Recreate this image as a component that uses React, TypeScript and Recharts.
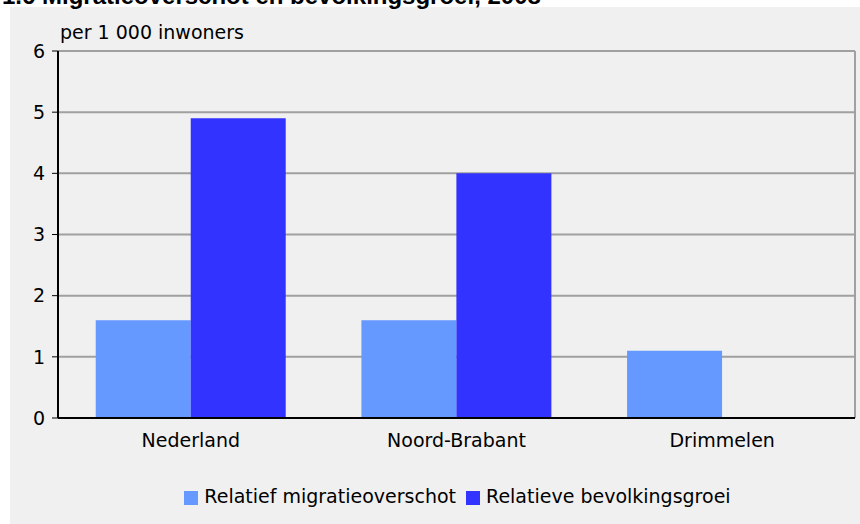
import { Bar, BarChart, CartesianGrid, Legend, XAxis, YAxis } from "recharts";

const regions = ["Nederland", "Noord-Brabant", "Drimmelen"];
const migratieoverschot = [1.6, 1.6, 1.1];
const bevolkingsgroei = [4.9, 4.0, 0];
const yTicks = [0, 1, 2, 3, 4, 5, 6];

const data = regions.map((region, i) => ({
  region,
  migratie: migratieoverschot[i],
  groei: bevolkingsgroei[i]
}));

const FONT = "'DejaVu Sans', sans-serif";

export default function App() {
  return (
    <div
      style={{
        position: "absolute",
        left: 0,
        top: 0,
        width: 860,
        height: 524,
        overflow: "hidden",
        background: "#fff",
        fontFamily: FONT
      }}
    >
      <div style={{ position: "absolute", left: 10, top: 7, width: 850, height: 517, background: "#f0f0f0" }}>
        <BarChart
          width={850}
          height={517}
          data={data}
          margin={{ top: 44, right: 5, left: 0, bottom: 17 }}
          barCategoryGap="14.2%"
          barGap={0}
        >
          <CartesianGrid
            stroke="#a0a0a0"
            strokeWidth={2}
            vertical
            fill="none"
            verticalCoordinatesGenerator={({ offset }) => [offset.left + offset.width]}
          />
          <XAxis
            dataKey="region"
            height={67}
            tickLine={false}
            axisLine={{ stroke: "#000", strokeWidth: 2 }}
            tickMargin={10}
            tick={{ fill: "#000", fontSize: 19, fontFamily: FONT }}
          />
          <YAxis
            width={48}
            domain={[0, 6]}
            ticks={yTicks}
            interval={0}
            tickSize={6}
            tickMargin={7}
            axisLine={{ stroke: "#000", strokeWidth: 2 }}
            tickLine={{ stroke: "#000" }}
            tick={{ fill: "#000", fontSize: 19, fontFamily: FONT }}
            label={{
              content: ({ viewBox }) => {
                const vb = viewBox as { x: number; y: number; width: number };
                return (
                  <text x={vb.x + vb.width + 2} y={vb.y - 12} fill="#000" fontSize={19} fontFamily={FONT}>
                    per 1 000 inwoners
                  </text>
                );
              }
            }}
          />
          <Legend
            verticalAlign="bottom"
            align="center"
            iconType="square"
            iconSize={14}
            wrapperStyle={{ fontSize: 19, fontFamily: FONT, color: "#000", paddingLeft: 30 }}
            formatter={(value) => <span style={{ color: "#000", marginLeft: 2 }}>{value}</span>}
          />
          <Bar
            dataKey="migratie"
            name="Relatief migratieoverschot"
            fill="#6699ff"
            isAnimationActive={false}
          />
          <Bar
            dataKey="groei"
            name="Relatieve bevolkingsgroei"
            fill="#3333ff"
            isAnimationActive={false}
          />
        </BarChart>
      </div>
      <div
        style={{
          position: "absolute",
          top: -16,
          left: 2,
          lineHeight: "24px",
          fontFamily: "'Liberation Sans', Arial, sans-serif",
          fontWeight: "bold",
          fontSize: 24,
          whiteSpace: "nowrap",
          color: "#000"
        }}
      >
        1.6 Migratieoverschot en bevolkingsgroei, 2008
      </div>
    </div>
  );
}
